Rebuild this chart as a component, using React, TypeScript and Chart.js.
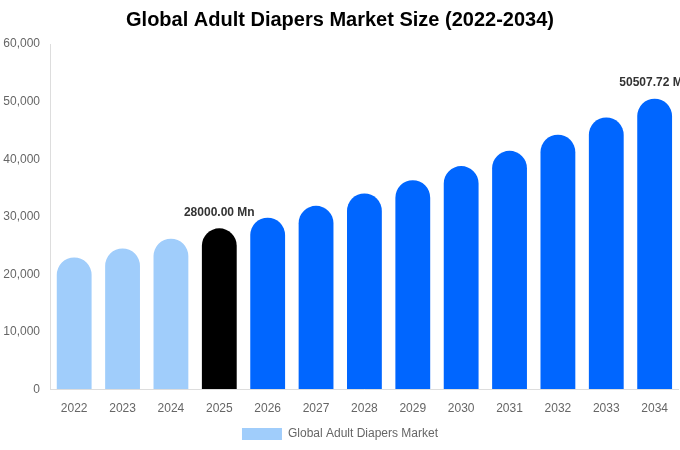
import React, { useEffect, useRef } from "react";
import { Chart, registerables } from "chart.js";

Chart.register(...registerables);

const years = ["2022","2023","2024","2025","2026","2027","2028","2029","2030","2031","2032","2033","2034"];
const marketSize = [22950, 24500, 26200, 28000, 29850, 31900, 34050, 36350, 38800, 41450, 44250, 47250, 50507.72];
const barColors = ["#a0cdfb","#a0cdfb","#a0cdfb","#000000","#0066ff","#0066ff","#0066ff","#0066ff","#0066ff","#0066ff","#0066ff","#0066ff","#0066ff"];
const labelledIndices = [3, 12];

const FONT = "'Liberation Sans', Arial, sans-serif";

const valueLabelPlugin = {
  id: "valueLabels",
  afterDatasetsDraw(chart: any) {
    const ctx = chart.ctx;
    const meta = chart.getDatasetMeta(0);
    ctx.save();
    ctx.font = `bold 12px ${FONT}`;
    ctx.fillStyle = "#333333";
    ctx.textAlign = "center";
    ctx.textBaseline = "bottom";
    labelledIndices.forEach((i) => {
      const el = meta.data[i];
      const v = marketSize[i];
      ctx.fillText(`${v.toFixed(2)} Mn`, el.x, el.y - 10);
    });
    ctx.restore();
  },
};

export default function App() {
  const ref = useRef<HTMLCanvasElement>(null);
  useEffect(() => {
    if (!ref.current) return;
    const chart = new Chart(ref.current, {
      type: "bar",
      data: {
        labels: years,
        datasets: [
          {
            label: "Global Adult Diapers Market",
            data: marketSize,
            backgroundColor: barColors,
            borderRadius: { topLeft: 100, topRight: 100, bottomLeft: 0, bottomRight: 0 },
            borderSkipped: false,
            categoryPercentage: 0.72,
            barPercentage: 1,
          },
        ],
      },
      options: {
        animation: false,
        responsive: true,
        maintainAspectRatio: false,
        layout: { padding: { left: 0, right: 0, top: 0, bottom: 0 } },
        plugins: {
          title: {
            display: true,
            text: "Global Adult Diapers Market Size (2022-2034)",
            color: "#000000",
            font: { family: FONT, size: 20, weight: "bold" },
            padding: { top: 8, bottom: 12 },
          },
          legend: {
            position: "bottom",
            labels: {
              color: "#666666",
              font: { family: FONT, size: 12 },
              boxWidth: 40,
              boxHeight: 12,
              padding: 0,
              generateLabels: () => [
                {
                  text: "Global Adult Diapers Market",
                  fillStyle: "#a0cdfb",
                  strokeStyle: "#a0cdfb",
                  lineWidth: 0,
                  hidden: false,
                  datasetIndex: 0,
                  fontColor: "#666666",
                } as any,
              ],
            },
          },
          tooltip: { enabled: false },
        },
        scales: {
          x: {
            grid: { display: true, drawOnChartArea: false, drawTicks: false, color: "#dddddd" },
            border: { display: true, color: "#dddddd" },
            ticks: { color: "#666666", font: { family: FONT, size: 12 }, padding: 12 },
          },
          y: {
            min: 0,
            max: 60000,
            afterFit: (scale: any) => {
              scale.width = 50;
            },
            grid: { display: true, drawOnChartArea: false, drawTicks: false, color: "#dddddd" },
            border: { display: true, color: "#dddddd" },
            ticks: {
              stepSize: 10000,
              color: "#666666",
              font: { family: FONT, size: 12 },
              padding: 10,
              callback: (v: any) => Number(v).toLocaleString("en-US"),
            },
          },
        },
      },
      plugins: [valueLabelPlugin],
    });
    return () => chart.destroy();
  }, []);
  return (
    <div style={{ position: "fixed", left: 0, top: 0, width: 680, height: 450, background: "#fff" }}>
      <canvas ref={ref} />
    </div>
  );
}
